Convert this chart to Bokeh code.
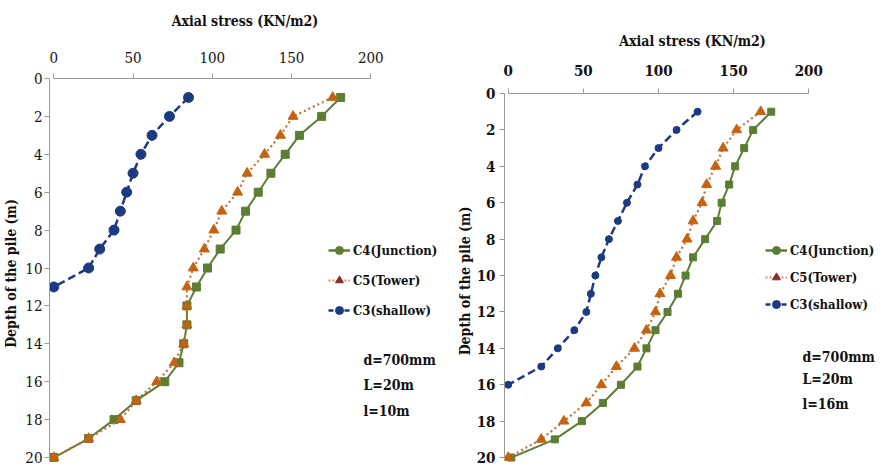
from bokeh.plotting import figure
from bokeh.layouts import row
from bokeh.models import Range1d, Legend, LegendItem, Label, FixedTicker, ColumnDataSource
from bokeh.embed import file_html
from bokeh.resources import INLINE

# ---------------- data ----------------
depth_20 = list(range(1, 21))
left_c4 = [181, 169, 155, 146, 137, 129, 121, 115, 105, 97, 90, 84, 84, 82, 79, 70, 52, 38, 22, 0]
left_c5 = [176, 151, 143, 133, 122, 116, 106, 101, 95, 88, 84, 84, 84, 82, 76, 65, 52, 42, 22, 0]
left_c3_depth = list(range(1, 12))
left_c3 = [85, 73, 62, 55, 50, 46, 42, 38, 29, 22, 0]

right_c4 = [175, 163, 157, 151, 147, 142, 139, 131, 123, 118, 113, 106, 98, 92, 86, 75, 63, 49, 31, 2]
right_c5 = [168, 152, 143, 138, 132, 129, 123, 119, 112, 108, 101, 98, 92, 84, 72, 62, 52, 37, 22, 0]
right_c3_depth = list(range(1, 17))
right_c3 = [126, 112, 100, 91, 86, 79, 73, 67, 62, 58, 55, 52, 44, 33, 22, 0]

x_ticks = [0, 50, 100, 150, 200]
y_ticks = [0, 2, 4, 6, 8, 10, 12, 14, 16, 18, 20]
series_names = ["C4(Junction)", "C5(Tower)", "C3(shallow)"]
left_notes = ["d=700mm", "L=20m", "l=10m"]
right_notes = ["d=700mm", "L=20m", "l=16m"]

GREEN = "#5B7D34"
ORANGE = "#C4620F"
DOT = "#C0703A"
DARKRED = "#8E2A22"
NAVY = "#1C3A80"
AXIS = "#9A9A9A"
FONT = "DejaVu Serif Condensed"
NAN = float("nan")


def make_panel(width, min_left, min_top, x_rng, y_end, c4, c5, c3d, c3, notes, note_pos,
               leg_loc, leg_spacing, bold_ticks, msize, tick_std, title_std, ylab_lstd, ylab_std):
    p = figure(width=width, height=468, output_backend="svg", toolbar_location=None,
               x_axis_location="above", x_range=Range1d(*x_rng), y_range=Range1d(y_end, 0),
               min_border_left=min_left, min_border_top=min_top, min_border_right=0,
               min_border_bottom=0, frame_align=False)
    p.outline_line_color = None
    p.grid.visible = False
    p.background_fill_color = None
    p.border_fill_color = None

    for ax, ticks, bnds in ((p.xaxis[0], x_ticks, (0, 200)), (p.yaxis[0], y_ticks, (0, 20))):
        ax.ticker = FixedTicker(ticks=ticks)
        ax.bounds = bnds
        ax.axis_line_color = AXIS
        ax.major_tick_line_color = AXIS
        ax.minor_tick_line_color = None
        ax.major_tick_in = 0
        ax.major_tick_out = 5
        ax.major_label_text_font = FONT
        ax.major_label_text_font_size = "15px"
        ax.major_label_text_font_style = "bold" if bold_ticks else "normal"
        ax.major_label_text_color = "#111111"
        ax.axis_label_text_font = FONT
        ax.axis_label_text_font_size = "14px"
        ax.axis_label_text_font_style = "bold"
        ax.axis_label_text_color = "#111111"
    p.xaxis.axis_label = "Axial stress (KN/m2)"
    p.yaxis.axis_label = "Depth of the pile (m)"
    p.xaxis.major_label_standoff = tick_std
    p.xaxis.axis_label_standoff = title_std
    p.yaxis.major_label_standoff = ylab_lstd
    p.yaxis.axis_label_standoff = ylab_std

    # series
    p.line(c4, depth_20, line_color=GREEN, line_width=2)
    p.scatter(c4, depth_20, marker="square", size=msize[0], fill_color=GREEN, line_color=GREEN)
    p.line(c5, depth_20, line_color=DOT, line_width=2.2, line_dash="2 3")
    p.scatter(c5, depth_20, marker="triangle", size=msize[1], fill_color=ORANGE, line_color=ORANGE)
    p.line(c3, c3d, line_color=NAVY, line_width=2.5, line_dash="8 4")
    p.scatter(c3, c3d, marker="circle", size=msize[2], fill_color=NAVY, line_color=NAVY)

    # legend-only glyphs (NaN data, draws nothing in the plot)
    empty = ColumnDataSource(data=dict(x=[NAN], y=[NAN]))
    l4 = p.line("x", "y", source=empty, line_color=GREEN, line_width=2.5)
    m4 = p.scatter("x", "y", source=empty, marker="circle", size=8, fill_color=GREEN, line_color=GREEN)
    l5 = p.line("x", "y", source=empty, line_color="#D98A70", line_width=2, line_dash="2 2")
    m5 = p.scatter("x", "y", source=empty, marker="triangle", size=10, fill_color=DARKRED, line_color=DARKRED)
    l3 = p.line("x", "y", source=empty, line_color=NAVY, line_width=2.5, line_dash="5 3")
    m3 = p.scatter("x", "y", source=empty, marker="circle", size=8, fill_color=NAVY, line_color=NAVY)
    legend = Legend(items=[LegendItem(label=series_names[0], renderers=[l4, m4]),
                           LegendItem(label=series_names[1], renderers=[l5, m5]),
                           LegendItem(label=series_names[2], renderers=[l3, m3])],
                    location=leg_loc, orientation="vertical")
    legend.background_fill_alpha = 0
    legend.border_line_color = None
    legend.padding = 0
    legend.margin = 0
    legend.spacing = leg_spacing
    legend.glyph_width = 22
    legend.glyph_height = 20
    legend.label_height = 20
    legend.label_standoff = 3
    legend.label_text_font = FONT
    legend.label_text_font_size = "13px"
    legend.label_text_font_style = "bold"
    legend.label_text_color = "#111111"
    p.add_layout(legend)

    for txt, (nx, ny) in zip(notes, note_pos):
        p.add_layout(Label(x=nx, y=ny, text=txt, text_font=FONT, text_font_size="14px",
                           text_font_style="bold", text_baseline="middle", text_align="left",
                           text_color="#111111"))
    return p


left = make_panel(440, 49, 78, (-2.7, 244.0), 20.58, left_c4, left_c5, left_c3_depth, left_c3,
                  left_notes, [(195.4, 14.88), (195.4, 16.2), (195.4, 17.52)],
                  (279, 148), 10, False, (8, 10, 10), 11, 20, 2, 3)
right = make_panel(440, 64, 93, (-2.46, 247.7), 20.6, right_c4, right_c5, right_c3_depth, right_c3,
                   right_notes, [(195.8, 14.45), (195.8, 15.71), (195.8, 17.03)],
                   (261, 154), 7, True, (7, 10, 7), 13, 13, 4, 1)

layout = row(left, right, spacing=0)
open("out.html", "w").write(file_html(layout, INLINE))
